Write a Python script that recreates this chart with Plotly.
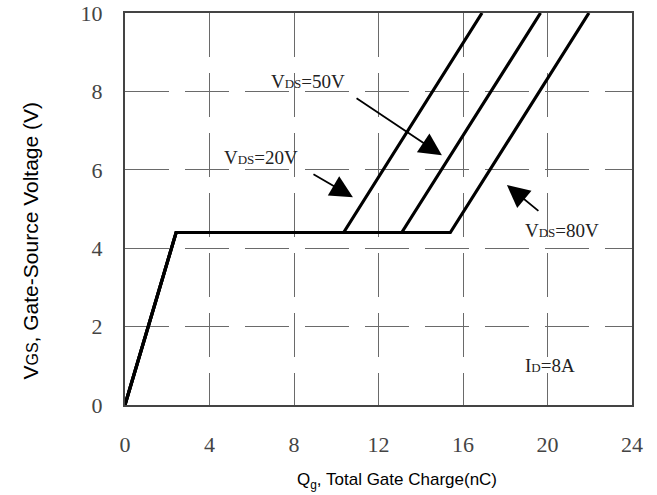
import plotly.graph_objects as go

# Gate charge characteristics, I_D = 8A
vds_labels = ["20V", "50V", "80V"]
q_knee = 2.42          # nC, end of the initial V_GS rise
v_plateau = 4.4        # V, Miller plateau
q_plateau_end = [10.35, 13.1, 15.4]   # nC, end of plateau per V_DS
q_at_10v = [16.9, 19.67, 21.96]       # nC, charge at V_GS = 10 V
v_max = 10.0

x_ticks = [0, 4, 8, 12, 16, 20, 24]
y_ticks = [0, 2, 4, 6, 8, 10]

fig = go.Figure()
for i, lab in enumerate(vds_labels):
    fig.add_trace(go.Scatter(
        x=[0, q_knee, q_plateau_end[i], q_at_10v[i]],
        y=[0, v_plateau, v_plateau, v_max],
        mode="lines", line=dict(color="black", width=3.2),
        name="V_DS=" + lab, showlegend=False, hoverinfo="skip",
    ))

serif = "Liberation Serif"
sans = "Liberation Sans"

def vds_text(v):
    return "V<span style='font-size:13px'>DS</span>=" + v

# label text positions (data coords) and arrow tail/tip
labels = [
    dict(t=vds_text("20V"), x=6.44, y=6.32, ax=8.85, ay=5.91, tx=10.79, ty=5.30),
    dict(t=vds_text("50V"), x=8.66, y=8.24, ax=10.89, ay=7.85, tx=15.0, ty=6.37),
    dict(t=vds_text("80V"), x=20.69, y=4.46, ax=19.64, ay=4.92, tx=18.08, ty=5.61),
]
for lb in labels:
    fig.add_annotation(x=lb["x"], y=lb["y"], text=lb["t"], showarrow=False,
                       font=dict(family=serif, size=19, color="#222"))
    fig.add_annotation(x=lb["tx"], y=lb["ty"], ax=lb["ax"], ay=lb["ay"],
                       axref="x", ayref="y", xref="x", yref="y", text="",
                       showarrow=True, arrowhead=2, arrowsize=2.5,
                       arrowwidth=1.8, arrowcolor="black", standoff=0)

fig.add_annotation(x=20.12, y=1.01, text="I<span style='font-size:13px'>D</span>=8A",
                   showarrow=False, font=dict(family=serif, size=19, color="#222"))

# axis titles
fig.add_annotation(xref="paper", yref="paper", x=0.537, y=-0.193,
                   xanchor="center", yanchor="middle",
                   text="Q<sub>g</sub>, Total Gate Charge(nC)", showarrow=False,
                   font=dict(family=sans, size=17, color="black"))
fig.add_annotation(xref="paper", yref="paper", x=-0.187, y=0.42, textangle=-90,
                   xanchor="center", yanchor="middle",
                   text="V<span style='font-size:16px'>GS</span>, Gate-Source Voltage (V)",
                   showarrow=False, font=dict(family=sans, size=21, color="black"))

fig.update_xaxes(
    range=[0, 24], tickvals=x_ticks, ticktext=[str(t) for t in x_ticks],
    showgrid=True, gridcolor="#6a6a6a", gridwidth=1, griddash="44px,16px",
    showline=True, linecolor="#444", linewidth=2, mirror=True, zeroline=False,
    ticks="", ticklabelstandoff=19, automargin=False,
    tickfont=dict(family=serif, size=22, color="#444"),
)
fig.update_yaxes(
    range=[0, 10], tickvals=y_ticks, ticktext=[str(t) for t in y_ticks],
    showgrid=True, gridcolor="#6a6a6a", gridwidth=1, griddash="44px,16px",
    showline=True, linecolor="#444", linewidth=2, mirror=True, zeroline=False,
    ticks="", ticklabelstandoff=16, automargin=False,
    tickfont=dict(family=serif, size=22, color="#444"),
)

fig.update_layout(
    width=657, height=495,
    margin=dict(l=125, r=25, t=13, b=90),
    paper_bgcolor="white", plot_bgcolor="white",
)

fig.write_html("out.html")
